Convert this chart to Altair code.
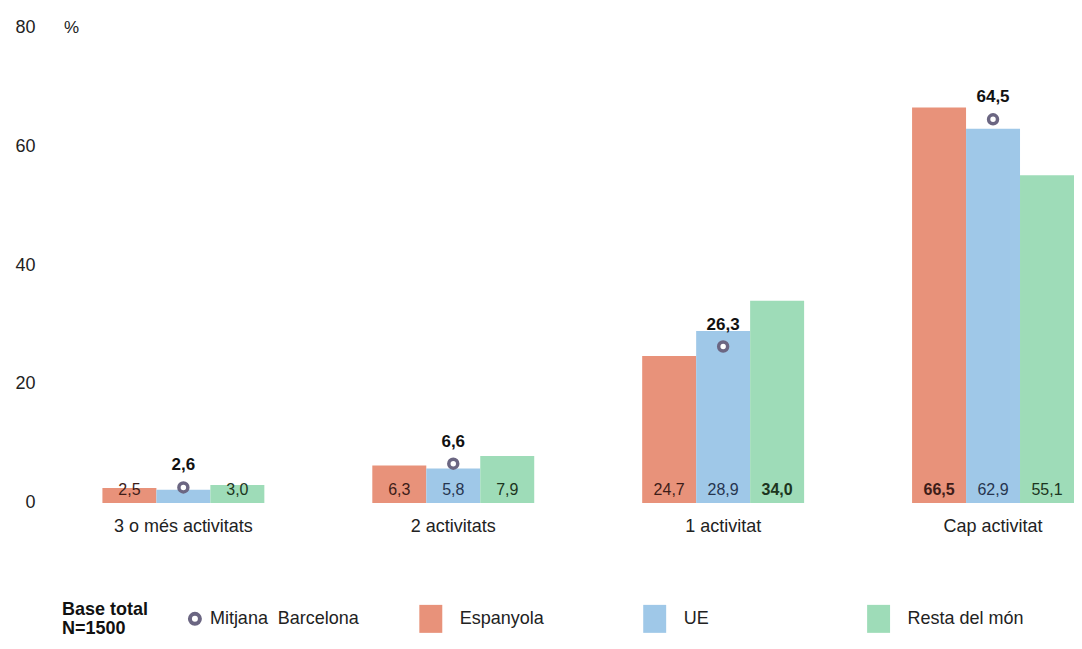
import altair as alt
import pandas as pd

# ---- data ----
categories = ["3 o més activitats", "2 activitats", "1 activitat", "Cap activitat"]
series = ["Espanyola", "UE", "Resta del món"]
espanyola = [2.5, 6.3, 24.7, 66.5]
ue = [2.2, 5.8, 28.9, 62.9]
resta = [3.0, 7.9, 34.0, 55.1]
mitjana = [2.6, 6.6, 26.3, 64.5]
bold_espanyola = [False, False, False, True]
bold_ue = [False, False, False, False]
bold_resta = [False, False, True, False]
show_espanyola = [True, True, True, True]
show_ue = [False, True, True, True]
show_resta = [True, True, True, True]
legend_note = "Base total\nN=1500"
mitjana_name = "Mitjana\u00a0 Barcelona"

bar_colors = ["#E8927A", "#9FC8E8", "#9EDCB8"]
label_colors = ["#3d1c18", "#26354f", "#1c3520"]
circle_color = "#6b6682"
FONT = "Liberation Sans"
TXT = "#222222"


def fmt(v):
    return f"{v:.1f}".replace(".", ",")


rows = []
for s, vals, bolds, shows in [
    (series[0], espanyola, bold_espanyola, show_espanyola),
    (series[1], ue, bold_ue, show_ue),
    (series[2], resta, bold_resta, show_resta),
]:
    for c, v, b, sh in zip(categories, vals, bolds, shows):
        rows.append({"cat": c, "series": s, "value": v, "zero": 0,
                     "label": fmt(v), "bold": b, "show": sh})
df = pd.DataFrame(rows)
df_lbl = df[df["show"]]
df_m = pd.DataFrame({"cat": categories, "value": mitjana,
                     "label": [fmt(v) for v in mitjana]})
df_note = pd.DataFrame({"note": [legend_note]})
df_mleg = pd.DataFrame({"name": [mitjana_name]})

x_enc = alt.X("cat:N", sort=categories,
              scale=alt.Scale(paddingInner=0.4, paddingOuter=0.099, align=1),
              axis=alt.Axis(title=None, labelAngle=0, ticks=False, domain=False,
                            labelPadding=15, labelFontSize=18, labelColor=TXT,
                            labelFont=FONT))
xo_enc = alt.XOffset("series:N", sort=series,
                     scale=alt.Scale(paddingInner=0, paddingOuter=0))
y_scale = alt.Scale(domain=[0, 80])
y_axis = alt.Axis(values=[0, 20, 40, 60, 80], grid=False, domain=False, ticks=False,
                  tickSize=0, labelPadding=14, labelFontSize=18, labelColor=TXT,
                  labelFont=FONT, title="%", titleAngle=0, titleX=22, titleY=0,
                  titleAlign="center", titleBaseline="middle", titleFontWeight="normal",
                  titleFontSize=17, titleColor=TXT, titleFont=FONT)

bars = alt.Chart(df).mark_bar().encode(
    x=x_enc, xOffset=xo_enc,
    y=alt.Y("value:Q", scale=y_scale, axis=y_axis),
    color=alt.Color("series:N", sort=series,
                    scale=alt.Scale(domain=series, range=bar_colors),
                    legend=alt.Legend(title=None, orient="none", legendX=368, legendY=578,
                                      direction="horizontal", columns=3,
                                      symbolType="M-0.82,-1H0.82V1H-0.82Z", symbolSize=784,
                                      symbolStrokeWidth=0, symbolOpacity=1,
                                      labelFontSize=18, labelFont=FONT, labelColor=TXT,
                                      labelOffset=15, columnPadding=64, gridAlign="all",
                                      padding=0)),
)


def bar_labels(data, weight):
    return alt.Chart(data).mark_text(baseline="middle", align="center", dy=-13,
                                     fontSize=16, font=FONT, fontWeight=weight).encode(
        x=x_enc, xOffset=xo_enc,
        y=alt.Y("zero:Q", scale=y_scale, axis=y_axis),
        text="label:N",
        color=alt.Color("series:N", sort=series,
                        scale=alt.Scale(domain=series, range=label_colors), legend=None),
    )


lbl_normal = bar_labels(df_lbl[~df_lbl["bold"]], "normal")
lbl_bold = bar_labels(df_lbl[df_lbl["bold"]], "bold")

points = alt.Chart(df_m).mark_point(shape="circle", filled=False, fill="white",
                                    stroke=circle_color, strokeWidth=3.5, size=80,
                                    opacity=1).encode(
    x=x_enc,
    y=alt.Y("value:Q", scale=y_scale, axis=y_axis),
)

m_labels = alt.Chart(df_m).mark_text(baseline="middle", align="center", dy=-22,
                                     fontSize=17, font=FONT, fontWeight="bold",
                                     color="#111111").encode(
    x=x_enc,
    y=alt.Y("value:Q", scale=y_scale, axis=y_axis),
    text="label:N",
)

# legend entry for the Barcelona average (circle + label)
mleg_sym = alt.Chart(df_mleg).mark_point(shape="circle", filled=False, fill="white",
                                         stroke=circle_color, strokeWidth=4, size=100,
                                         opacity=1).encode(
    x=alt.value(146), y=alt.value(592),
)
mleg_txt = alt.Chart(df_mleg).mark_text(align="left", baseline="middle", fontSize=18,
                                        font=FONT, color=TXT).encode(
    x=alt.value(161), y=alt.value(592), text="name:N",
)

note = alt.Chart(df_note).mark_text(align="left", baseline="middle", lineBreak="\n",
                                    lineHeight=19, fontSize=18, font=FONT,
                                    fontWeight="bold", color="#111111").encode(
    x=alt.value(13), y=alt.value(583), text="note:N",
)

chart = alt.layer(bars, lbl_normal, lbl_bold, points, m_labels,
                  mleg_sym, mleg_txt, note).resolve_scale(
    color="independent"
).properties(
    width=1025.5, height=476,
    background="white",
    autosize=alt.AutoSizeParams(type="none"),
    padding={"left": 41, "top": 19, "right": 0, "bottom": 138},
).configure_view(stroke=None)

chart.save("out.html", embed_options={"renderer": "svg", "actions": False})
